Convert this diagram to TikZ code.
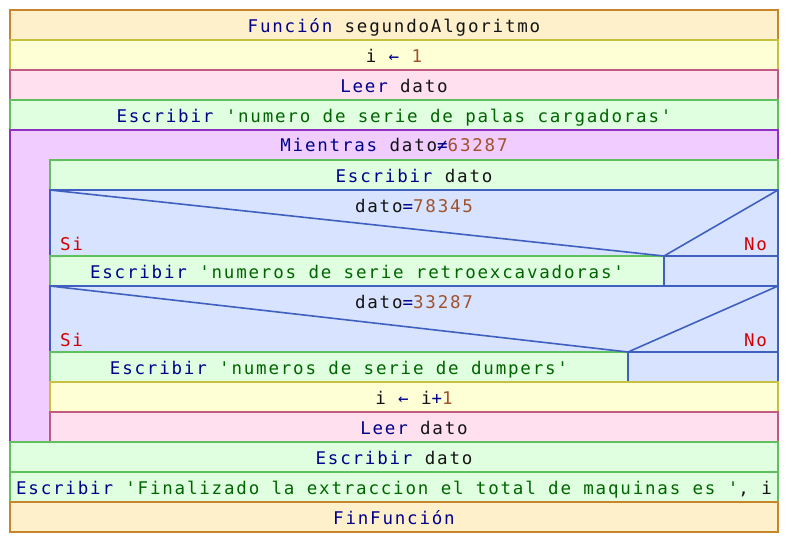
\documentclass[tikz,border=0pt]{standalone}
\usepackage{fontspec}
\newfontfamily\nsfont{DejaVu Sans Mono}[LetterSpace=10.3]
\usepackage{tikz}
\usetikzlibrary{positioning}

\definecolor{fnfill}{RGB}{255,240,204}
\definecolor{fnline}{RGB}{200,134,42}
\definecolor{asgfill}{RGB}{255,255,214}
\definecolor{asgline}{RGB}{200,192,64}
\definecolor{readfill}{RGB}{255,224,238}
\definecolor{readline}{RGB}{192,90,128}
\definecolor{writefill}{RGB}{224,255,224}
\definecolor{writeline}{RGB}{96,192,96}
\definecolor{loopfill}{RGB}{240,204,255}
\definecolor{loopline}{RGB}{144,48,192}
\definecolor{iffill}{RGB}{216,228,255}
\definecolor{ifline}{RGB}{64,96,192}
\definecolor{kwcol}{RGB}{0,0,140}
\definecolor{numcol}{RGB}{160,82,45}
\definecolor{strcol}{RGB}{0,100,0}
\definecolor{varcol}{RGB}{20,20,20}
\definecolor{sicol}{RGB}{210,0,0}

\newcommand{\kwd}[1]{\textcolor{kwcol}{#1}}
\newcommand{\nmb}[1]{\textcolor{numcol}{#1}}
\newcommand{\strg}[1]{\textcolor{strcol}{#1}}

\begin{document}
\begin{tikzpicture}
  [x=1pt, y=-1pt,
   every node/.style={rectangle, line width=1.6pt, outer sep=0pt, inner sep=0pt,
     text height=17pt, text depth=3pt,
     text=varcol, font=\nsfont\fontsize{17.5}{20}\selectfont},
   fnbox/.style={draw=fnline, fill=fnfill, minimum height=30pt},
   asgbox/.style={draw=asgline, fill=asgfill, minimum height=30pt},
   readbox/.style={draw=readline, fill=readfill, minimum height=30pt},
   writebox/.style={draw=writeline, fill=writefill, minimum height=30pt},
   loopbox/.style={draw=loopline, fill=loopfill},
   ifbox/.style={draw=ifline, fill=iffill, minimum height=30pt},
   wide/.style={minimum width=768pt},
   inner/.style={minimum width=728pt},
   lbl/.style={draw=none, fill=none},
   branch/.style={text=sicol}]
  \useasboundingbox (0,0) rectangle (788,542);

  \node[fnbox, wide, anchor=north west] (fn) at (10,10) {\kwd{Función} segundoAlgoritmo};
  \node[asgbox, wide, below=0pt of fn] (asg1) {i \kwd{←} \nmb{1}};
  \node[readbox, wide, below=0pt of asg1] (read1) {\kwd{Leer} dato};
  \node[writebox, wide, below=0pt of read1] (wr1) {\kwd{Escribir} \strg{'numero de serie de palas cargadoras'}};
  \node[loopbox, wide, minimum height=312pt, below=0pt of wr1] (loop) {};
  \node[lbl, anchor=center] (cond0) at (394,144) {\kwd{Mientras} dato\kwd{≠}\nmb{63287}};

  % cuerpo del mientras
  \node[writebox, inner, anchor=north west] (wr2) at (50,160) {\kwd{Escribir} dato};
  \node[ifbox, inner, minimum height=66pt, below=0pt of wr2] (if1) {};
  \node[writebox, minimum width=614pt, anchor=north west] (yes1) at (if1.south west) {\kwd{Escribir} \strg{'numeros de serie retroexcavadoras'}};
  \node[ifbox, minimum width=114pt, anchor=north west] (no1) at (yes1.north east) {};
  \draw[ifline, line width=1.6pt] (if1.north west) -- (yes1.north east) -- (if1.north east);
  \node[lbl, anchor=center] (cond1) at (414,205) {dato\kwd{=}\nmb{78345}};
  \node[lbl, branch, anchor=base west] (si1) at (60,250) {Si};
  \node[lbl, branch, anchor=base east] (nolbl1) at (767,250) {No};

  \node[ifbox, inner, minimum height=66pt, anchor=north west] (if2) at (yes1.south west) {};
  \node[writebox, minimum width=578pt, anchor=north west] (yes2) at (if2.south west) {\kwd{Escribir} \strg{'numeros de serie de dumpers'}};
  \node[ifbox, minimum width=150pt, anchor=north west] (no2) at (yes2.north east) {};
  \draw[ifline, line width=1.6pt] (if2.north west) -- (yes2.north east) -- (if2.north east);
  \node[lbl, anchor=center] (cond2) at (414,301) {dato\kwd{=}\nmb{33287}};
  \node[lbl, branch, anchor=base west] (si2) at (60,346) {Si};
  \node[lbl, branch, anchor=base east] (nolbl2) at (767,346) {No};

  \node[asgbox, inner, anchor=north west] (asg2) at (yes2.south west) {i \kwd{←} i\kwd{+}\nmb{1}};
  \node[readbox, inner, below=0pt of asg2] (read2) {\kwd{Leer} dato};

  % fin del mientras
  \node[writebox, wide, below=0pt of loop] (wr3) {\kwd{Escribir} dato};
  \node[writebox, wide, below=0pt of wr3] (wr4) {\kwd{Escribir} \strg{'Finalizado la extraccion el total de maquinas es '}, i};
  \node[fnbox, wide, below=0pt of wr4] (fin) {\kwd{FinFunción}};
\end{tikzpicture}
\end{document}
